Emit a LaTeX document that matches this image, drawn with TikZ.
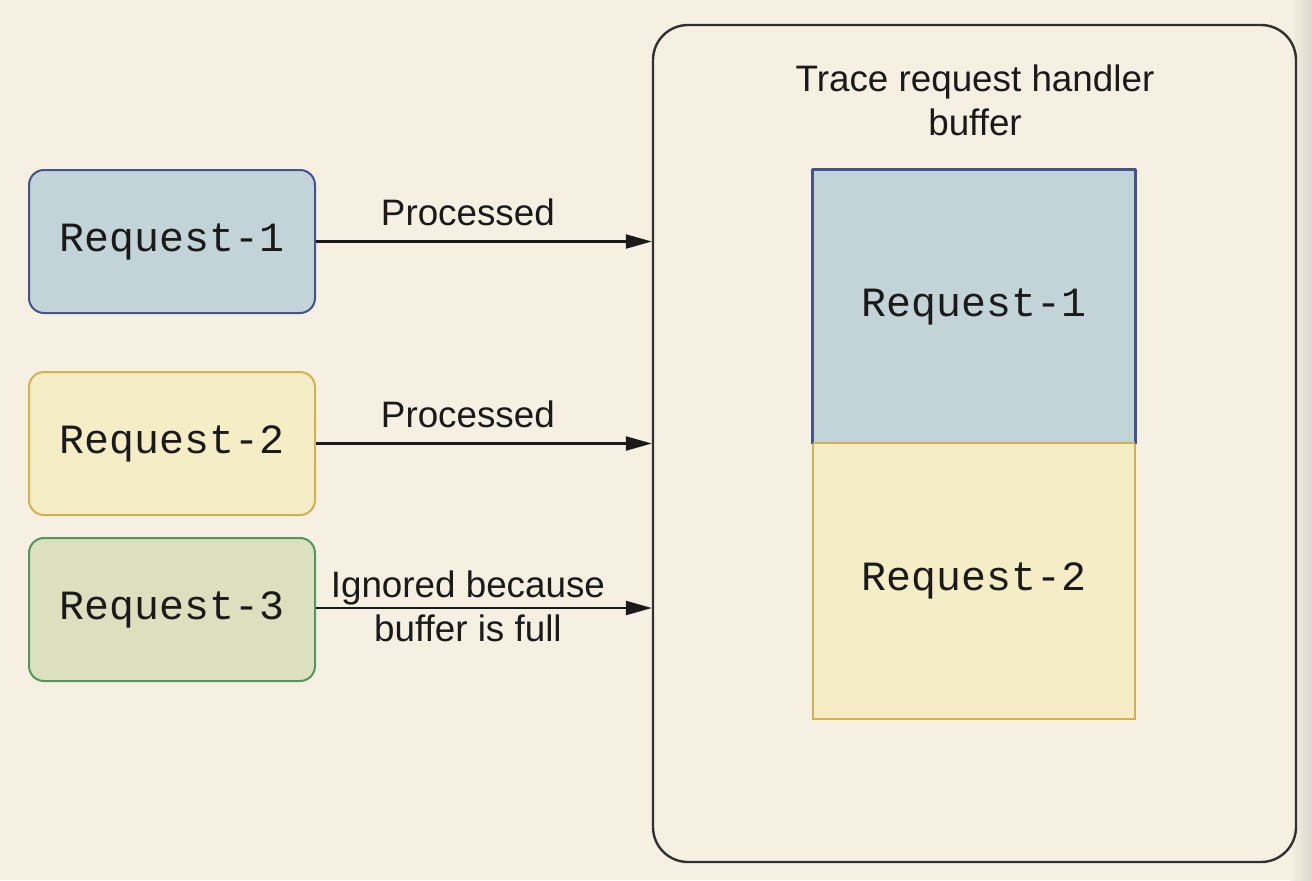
\documentclass[tikz,border=0pt]{standalone}
\usepackage{fontspec}
\setmainfont{Liberation Sans}
\setmonofont{Liberation Mono}
\usetikzlibrary{arrows.meta,calc}
\definecolor{bg}{HTML}{F6F0E3}
\definecolor{bluefill}{HTML}{C3D4D8}
\definecolor{blueline}{HTML}{44528F}
\definecolor{yelfill}{HTML}{F5EDC5}
\definecolor{yelline}{HTML}{D3B14F}
\definecolor{grnfill}{HTML}{DCE0BE}
\definecolor{grnline}{HTML}{4E9A56}
\definecolor{ink}{HTML}{1A1A1A}
\definecolor{shade}{HTML}{DDD9D0}
\tikzset{
  reqbox/.style={draw, line width=1pt, rounded corners=7.5pt, minimum width=143pt, minimum height=71.5pt, inner sep=0pt, font=\ttfamily\fontsize{20.8}{25}\selectfont, text=ink},
  cell/.style={draw, line width=1pt, minimum width=161pt, inner sep=0pt, font=\ttfamily\fontsize{20.8}{25}\selectfont, text=ink},
  lbl/.style={font=\fontsize{18.4}{22}\selectfont, text=ink, align=center, inner sep=0pt},
  arr/.style={draw=ink, line width=1.1pt, -{Triangle[length=13pt,width=7pt]}}
}
\begin{document}
\begin{tikzpicture}[x=0.5pt,y=-0.5pt]
\fill[bg] (0,0) rectangle (1312,880);
\shade[left color=bg, right color=shade] (1290,0) rectangle (1312,880);
\useasboundingbox (0,0) rectangle (1312,880);
% big container
\node[draw=ink!90, line width=1.2pt, rounded corners=17.5pt, minimum width=321.5pt, minimum height=418.5pt, inner sep=0pt] (big) at (974.5,443.5) {};
\node[lbl] (title) at (975,100) {Trace request handler\\buffer};
% buffer cells
\node[cell, draw=blueline, fill=bluefill, minimum height=136.5pt] (b1) at (974,306.5) {Request-1};
\node[cell, draw=yelline, fill=yelfill, minimum height=138pt] (b2) at (974,581) {Request-2};
\draw[blueline, line width=1pt] (b1.north west) -- (b1.south west) (b1.north east) -- (b1.south east) (b1.north west) -- (b1.north east);
% requests
\node[reqbox, draw=blueline, fill=bluefill] (r1) at (172,241.5) {Request-1};
\node[reqbox, draw=yelline, fill=yelfill] (r2) at (172,443.5) {Request-2};
\node[reqbox, draw=grnline, fill=grnfill] (r3) at (172,609.5) {Request-3};
% connectors
\coordinate (e1) at (r1.east -| big.west);
\coordinate (e2) at (r2.east -| big.west);
\coordinate (e3) at ($(r3.east -| big.west)+(0,-1.5)$);
\draw[arr] (r1.east) -- node[lbl, anchor=base, yshift=8pt, xshift=-8pt] {Processed} (e1);
\draw[arr] (r2.east) -- node[lbl, anchor=base, yshift=8pt, xshift=-8pt] {Processed} (e2);
\draw[arr] ($(r3.east)+(0,-1.5)$) -- node[lbl, yshift=1pt, xshift=-8pt] {Ignored because\\buffer is full} (e3);
\end{tikzpicture}
\end{document}
